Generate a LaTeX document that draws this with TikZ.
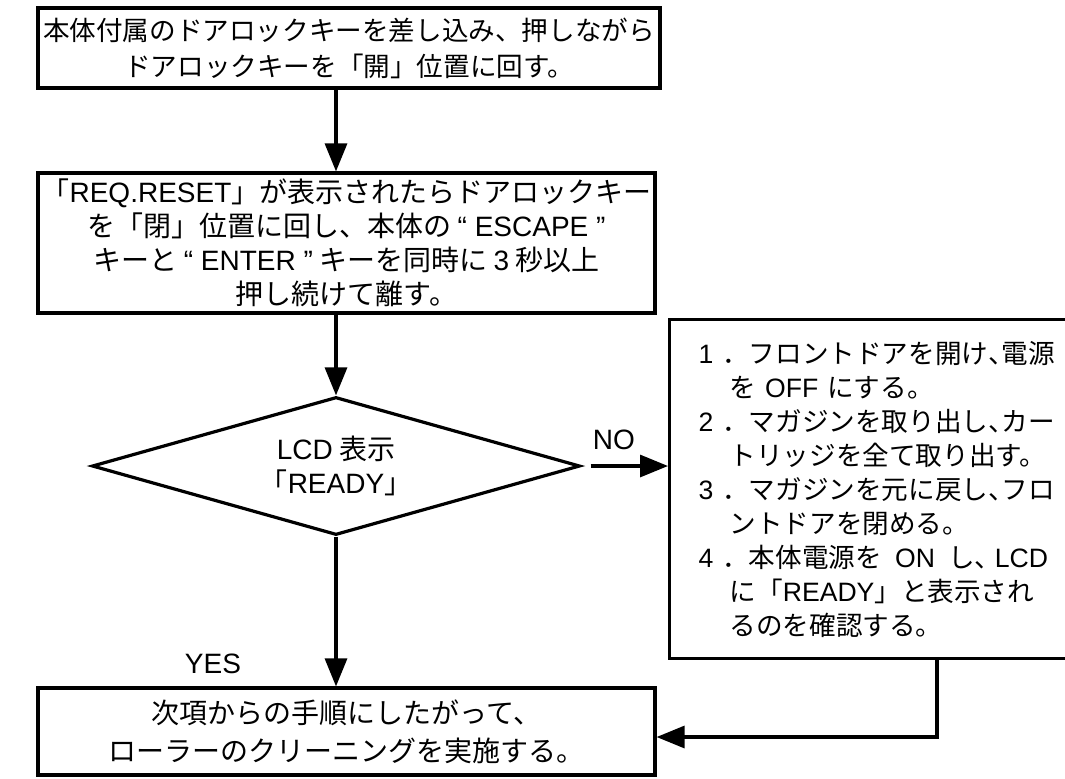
\documentclass[tikz,border=0pt]{standalone}
\usepackage{fontspec}
\setmainfont{Noto Sans CJK JP}
\newfontfamily\lat{Liberation Sans}
\usetikzlibrary{
    arrows.meta,      % For arrow tips
    shapes.geometric, % For the decision diamond
    positioning       % For relative placement
}
\newcommand{\la}[1]{{\lat #1}}               % Latin text in Liberation Sans
\newcommand{\hc}{\makebox[0.5em][l]{、}}     % half-width comma

\begin{document}
\begin{tikzpicture}[
    x=0.5pt, y=-0.5pt, % one unit = one pixel of the reference, y downwards
    >={Triangle[length=14pt,width=11pt]}, % Large filled arrow tips
    flow/.style={line width=1.6pt, ->},   % Connector style
    stepbox/.style={draw, line width=1.6pt, rectangle, inner sep=0pt,
        align=center, font=\fontsize{14}{17}\selectfont},
    decision/.style={draw, line width=1.6pt, diamond, aspect=3.5, inner sep=0pt,
        minimum width=244pt, minimum height=69pt, align=center,
        font=\fontsize{14}{17}\selectfont},
    note/.style={font=\fontsize{14}{17}\selectfont\lat}
]
    \useasboundingbox (0,0) rectangle (1065,778);

    % Steps
    \node[stepbox, minimum width=311pt, minimum height=40pt,
          font=\fontsize{13.3}{18}\selectfont] (insert) at (349,48)
        {本体付属のドアロックキーを差し込み、押しながら\\ドアロックキーを「開」位置に回す。};
    \node[stepbox, minimum width=308.5pt, minimum height=70pt] (reset) at (346.5,243)
        {「\la{REQ.RESET}」が表示されたらドアロックキー\\
         を「閉」位置に回し、本体の \la{“ ESCAPE ”}\\
         キーと \la{“ ENTER ”} キーを同時に \la{3} 秒以上\\
         押し続けて離す。};

    % Decision
    \node[decision] (ready) at (336,466) {\la{LCD} 表示\\「\la{READY}」};

    % Recovery procedure (right edge runs off the page)
    \node[stepbox, anchor=north west, align=left, text width=210pt,
          inner xsep=14.5pt, minimum height=169.5pt,
          font=\fontsize{13.3}{17}\selectfont] (recover) at (668,318)
        {\la{1 }．フロントドアを開け\hc 電源\\
         \hspace*{15.5pt}を \la{OFF} にする。\\
         \la{2 }．マガジンを取り出し\hc カー\\
         \hspace*{15.5pt}トリッジを全て取り出す。\\
         \la{3 }．マガジンを元に戻し\hc フロ\\
         \hspace*{15.5pt}ントドアを閉める。\\
         \la{4 }．本体電源を\hspace{0.5em}\la{ON}\hspace{0.5em}し\hc\hspace{0.25em}\la{LCD}\\
         \hspace*{15.5pt}に「\la{READY}」と表示され\\
         \hspace*{15.5pt}るのを確認する。};

    % Final step
    \node[stepbox, minimum width=308.5pt, minimum height=43.5pt,
          font=\fontsize{14}{19}\selectfont] (clean) at (346.5,731.5)
        {次項からの手順にしたがって、\\ローラーのクリーニングを実施する。};

    % Connectors
    \draw[flow] (insert.south -| ready.north) -- (reset.north -| ready.north);
    \draw[flow] (reset.south -| ready.north) -- (ready.north);
    \draw[flow] ([xshift=4.5pt]ready.east) -- (ready.east -| recover.west)
        node[note, pos=0.3, above=4pt] (no) {NO};
    \draw[flow] (ready.south) -- (clean.north -| ready.south);
    \node[note] (yes) at (213,664) {YES};
    \coordinate (back) at (937,737);
    \draw[flow] (recover.south -| back) |- (clean.east |- back);
\end{tikzpicture}
\end{document}
